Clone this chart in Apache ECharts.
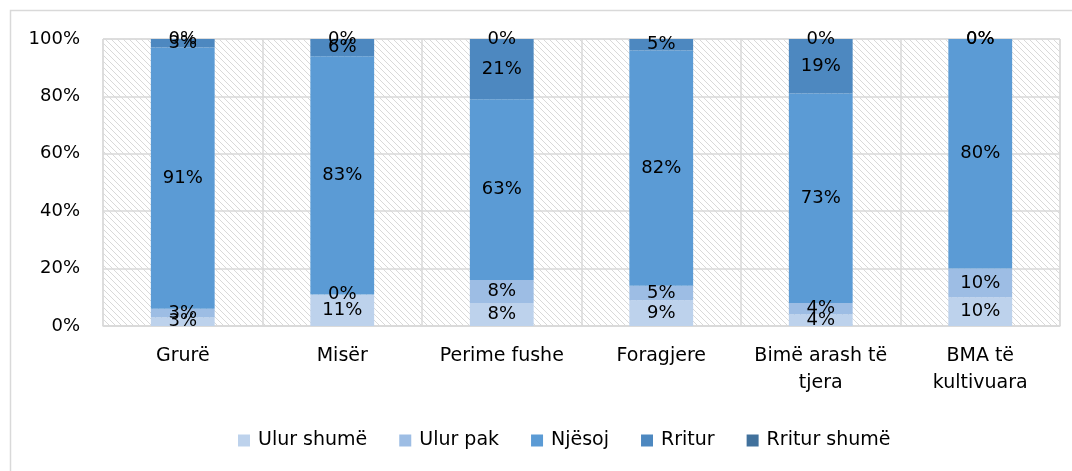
<!DOCTYPE html>
<html>
<head>
<meta charset="utf-8">
<script src="https://cdn.jsdelivr.net/npm/echarts@6/dist/echarts.min.js"></script>
<style>
  html, body { margin: 0; padding: 0; background: #fff; }
  #chart { width: 1072px; height: 471px; }
</style>
</head>
<body>
<div id="chart"></div>
<script>
// kategorite dhe vlerat (%)
var categories = ['Grurë', 'Misër', 'Perime fushe', 'Foragjere', 'Bimë arash të\ntjera', 'BMA të\nkultivuara'];
var seriesNames = ['Ulur shumë', 'Ulur pak', 'Njësoj', 'Rritur', 'Rritur shumë'];
var ulurShume = [3, 11, 8, 9, 4, 10];
var ulurPak = [3, 0, 8, 5, 4, 10];
var njesoj = [91, 83, 63, 82, 73, 80];
var rritur = [3, 6, 21, 5, 19, 0];
var rriturShume = [0, 0, 0, 0, 0, 0];
var yTicks = [0, 20, 40, 60, 80, 100];

var colors = ['#bdd2ec', '#9dbde4', '#5b9bd5', '#4d88c0', '#41719c'];
var fontName = 'DejaVu Sans';

// vijat e pjerreta ne sfond
var hatch = document.createElement('canvas');
hatch.width = 6; hatch.height = 6;
var ctx = hatch.getContext('2d');
ctx.fillStyle = '#ffffff';
ctx.fillRect(0, 0, 6, 6);
ctx.strokeStyle = '#d9d9d9';
ctx.lineWidth = 1;
ctx.beginPath();
ctx.moveTo(-1, -1); ctx.lineTo(7, 7);
ctx.moveTo(-1, 5); ctx.lineTo(1, 7);
ctx.moveTo(5, -1); ctx.lineTo(7, 1);
ctx.stroke();

var allData = [ulurShume, ulurPak, njesoj, rritur, rriturShume];

var series = allData.map(function (d, i) {
    return {
        name: seriesNames[i],
        type: 'bar',
        stack: 'total',
        barWidth: '40%',
        data: d,
        itemStyle: { color: colors[i] },
        label: {
            show: true,
            position: 'inside',
            formatter: '{c}%',
            color: '#000',
            fontFamily: fontName,
            fontSize: 18
        },
        emphasis: { disabled: true }
    };
});

var chart = echarts.init(document.getElementById('chart'));
chart.setOption({
    animation: false,
    graphic: [{
        type: 'rect',
        shape: { x: 10.5, y: 10.5, width: 1100, height: 500 },
        style: { fill: null, stroke: '#d9d9d9', lineWidth: 1.5 },
        z: -10
    }],
    grid: {
        left: 103, right: 12, top: 39, bottom: 145,
        show: true,
        backgroundColor: { image: hatch, repeat: 'repeat' },
        borderColor: '#d9d9d9',
        borderWidth: 1
    },
    legend: {
        top: 426,
        left: 233,
        itemWidth: 12,
        itemHeight: 12,
        itemGap: 32,
        icon: 'rect',
        textStyle: { fontFamily: fontName, fontSize: 19, color: '#000', padding: [0, 0, 0, 3] },
        data: seriesNames
    },
    xAxis: {
        type: 'category',
        data: categories,
        axisLine: { show: true, lineStyle: { color: '#d9d9d9', width: 1.5 } },
        axisTick: { show: false },
        splitLine: { show: true, lineStyle: { color: '#d9d9d9', width: 1.5 } },
        axisLabel: {
            fontFamily: fontName, fontSize: 19, color: '#000',
            margin: 17, lineHeight: 27, interval: 0
        }
    },
    yAxis: {
        type: 'value',
        min: 0, max: 100, interval: 20,
        axisLine: { show: false },
        axisTick: { show: false },
        splitLine: { lineStyle: { color: '#d9d9d9', width: 1.5 } },
        axisLabel: {
            formatter: function (v) { return yTicks.indexOf(v) >= 0 ? v + '%' : ''; },
            fontFamily: fontName, fontSize: 18, color: '#000', margin: 23,
            padding: [5, 0, 0, 0]
        }
    },
    series: series
});
</script>
</body>
</html>
